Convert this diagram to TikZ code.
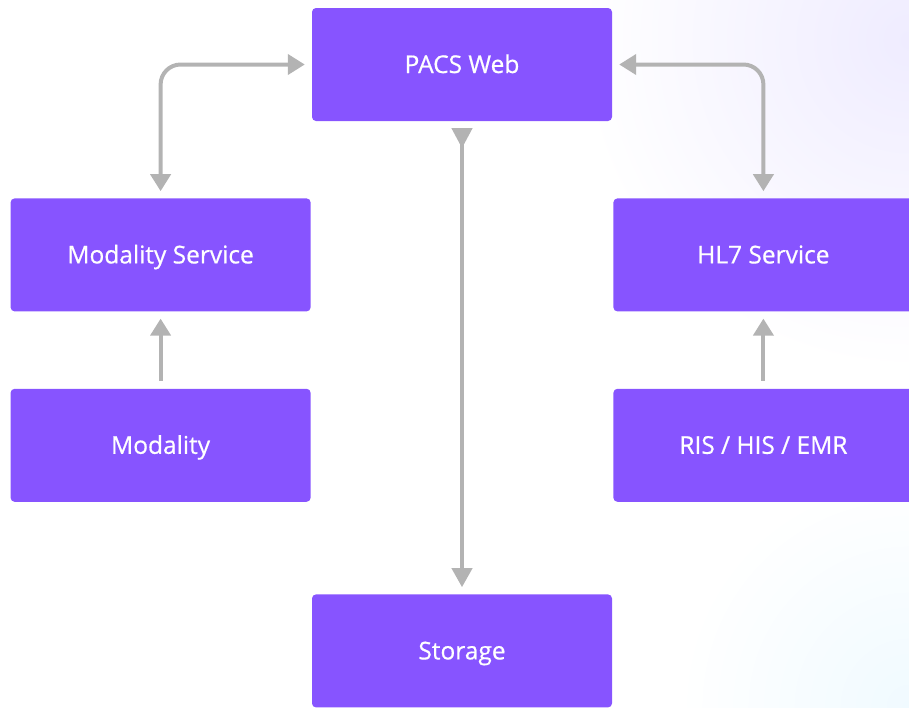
\documentclass[tikz,border=0pt]{standalone}
\usepackage{fontspec}
\setmainfont{Open Sans}
\newfontfamily\boxfont[FakeBold=0.6]{Open Sans}
\usetikzlibrary{arrows.meta}
\usetikzlibrary{positioning}
\definecolor{boxviolet}{HTML}{8754FF}
\definecolor{linkgray}{HTML}{B3B3B3}
\definecolor{glowlilac}{HTML}{EFECFF}
\definecolor{glowcyan}{HTML}{F0FAFF}
\tikzstyle{arrow} = [draw=linkgray, line width=4pt, >={Triangle[length=17pt,width=20pt]}]
\tikzstyle{service} = [
    rectangle, minimum width=300pt, minimum height=113pt, text centered, rounded corners=4pt,
    text height=17pt, text depth=0pt,
    fill=boxviolet, text=white, font=\boxfont\fontsize{24.5}{29}\selectfont]

\begin{document}
\begin{tikzpicture}[x=1pt,y=-1pt]
\useasboundingbox (0,0) rectangle (909,707);
% faint glow in the background
\shade[inner color=glowlilac, outer color=white] (909,40) circle (330);
\shade[inner color=glowcyan, outer color=white] (909,707) circle (230);

\node (pacs-web) [service] at (462,64.5) {PACS Web};

\node (modality-svc) [service, below left=77pt and 1pt of pacs-web] {Modality Service};

\node (hl7-svc) [service, below right=77pt and 1pt of pacs-web] {HL7 Service};

\node (modality) [service, below=77pt of modality-svc] {Modality};

\node (ris) [service, below=77pt of hl7-svc] {RIS / HIS / EMR};

\node (storage) [service, below=473pt of pacs-web] {Storage};

\draw [arrow, <->, rounded corners=20pt, shorten <=7pt, shorten >=7pt] (pacs-web.west) -| (modality-svc.north);
\draw [arrow, <->, rounded corners=20pt, shorten <=7pt, shorten >=7pt] (pacs-web.east) -| (hl7-svc.north);
\draw [arrow, {Triangle[reversed,length=20pt,width=20pt]}-{Triangle[length=19pt,width=20pt]}, shorten <=7pt, shorten >=7pt] (pacs-web) -- (storage);
\draw [arrow, ->, shorten <=8pt, shorten >=7pt] (modality) -- (modality-svc);
\draw [arrow, ->, shorten <=8pt, shorten >=7pt] (ris) -- (hl7-svc);
\end{tikzpicture}
\end{document}
